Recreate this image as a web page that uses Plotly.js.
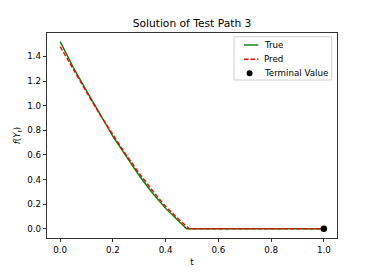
<!DOCTYPE html>
<html>
<head>
<meta charset="utf-8">
<script src="https://cdn.plot.ly/plotly-3.0.1.min.js"></script>
<style>html,body{margin:0;padding:0;background:#fff;}#chart{width:374px;height:273px;}</style>
</head>
<body>
<div id="chart"></div>
<script>
const tTrue = [0.00, 0.05, 0.10, 0.15, 0.20, 0.25, 0.30, 0.35, 0.40, 0.45, 0.48, 0.50, 0.60, 0.70, 0.80, 0.90, 1.00];
const yTrue = [1.52, 1.31, 1.12, 0.93, 0.75, 0.59, 0.43, 0.29, 0.165, 0.06, 0.0, 0, 0, 0, 0, 0, 0];
const tPred = [0.00, 0.05, 0.10, 0.15, 0.20, 0.25, 0.30, 0.35, 0.40, 0.45, 0.49, 0.50, 0.60, 0.70, 0.80, 0.90, 1.00];
const yPred = [1.48, 1.29, 1.11, 0.93, 0.76, 0.60, 0.45, 0.31, 0.18, 0.075, 0.0, 0, 0, 0, 0, 0, 0];
const tTerminal = [1.0];
const yTerminal = [0.0];
const xTicks = [0.0, 0.2, 0.4, 0.6, 0.8, 1.0];
const xTickText = ["0.0", "0.2", "0.4", "0.6", "0.8", "1.0"];
const yTicks = [0.0, 0.2, 0.4, 0.6, 0.8, 1.0, 1.2, 1.4];
const yTickText = ["0.0", "0.2", "0.4", "0.6", "0.8", "1.0", "1.2", "1.4"];
const legendNames = ["True", "Pred", "Terminal Value"];

const font = "DejaVu Sans, sans-serif";
const fs = 8.7;
const green = "#008000", red = "#ff0000", black = "#000000";
const dashPat = "4.5px,2px";

const data = [
  {x: tTrue, y: yTrue, type: "scatter", mode: "lines", name: legendNames[0],
   line: {color: green, width: 1.4}},
  {x: tPred, y: yPred, type: "scatter", mode: "lines", name: legendNames[1],
   line: {color: red, width: 1.4, dash: dashPat}},
  {x: tTerminal, y: yTerminal, type: "scatter", mode: "markers", name: legendNames[2],
   marker: {color: black, size: 6.5}}
];

// hand-built matplotlib-style legend (paper coordinates)
const lgX0 = 0.6448, lgX1 = 0.9817, lgY0 = 0.7707, lgY1 = 0.982;
const rowY = [0.9415, 0.8717, 0.8034];
const sampleX0 = 0.6793, sampleX1 = 0.7286, dotX = 0.6985, textX = 0.7403;
const shapes = [
  {type: "rect", xref: "paper", yref: "paper", x0: lgX0, x1: lgX1, y0: lgY0, y1: lgY1,
   line: {color: "#d0d0d0", width: 1}, fillcolor: "rgba(255,255,255,0.8)", layer: "above"},
  {type: "line", xref: "paper", yref: "paper", x0: sampleX0, x1: sampleX1, y0: rowY[0], y1: rowY[0],
   line: {color: green, width: 1.4}, layer: "above"},
  {type: "line", xref: "paper", yref: "paper", x0: sampleX0, x1: sampleX1, y0: rowY[1], y1: rowY[1],
   line: {color: red, width: 1.4, dash: dashPat}, layer: "above"},
  {type: "circle", xref: "paper", yref: "paper", xsizemode: "pixel", ysizemode: "pixel",
   xanchor: dotX, yanchor: rowY[2], x0: -3, x1: 3, y0: -3, y1: 3,
   fillcolor: black, line: {color: black, width: 0}, layer: "above"}
];
const annotations = legendNames.map((n, i) => ({
  xref: "paper", yref: "paper", x: textX, y: rowY[i], xanchor: "left", yanchor: "middle",
  text: n, showarrow: false, font: {family: font, size: fs, color: black}
}));

const axisCommon = {
  showgrid: false, zeroline: false, showline: true, mirror: true,
  linecolor: "#000", linewidth: 0.8, ticks: "outside", ticklen: 3.5, tickcolor: "#000", tickwidth: 0.8,
  tickfont: {family: font, size: fs, color: "#000"}
};

const layout = {
  width: 374, height: 273,
  margin: {l: 47, r: 37, t: 33, b: 35, pad: 0},
  paper_bgcolor: "#ffffff", plot_bgcolor: "#ffffff",
  font: {family: font, size: fs, color: "#000"},
  title: {text: "Solution of Test Path 3", font: {family: font, size: 10.7, color: "#000"},
          x: 0.5, xref: "paper", xanchor: "center", y: 0.916, yref: "container", yanchor: "middle"},
  showlegend: false,
  shapes: shapes,
  annotations: annotations,
  xaxis: Object.assign({}, axisCommon, {range: [-0.05, 1.05], tickvals: xTicks, ticktext: xTickText,
          title: {text: "t", font: {family: font, size: fs, color: "#000"}, standoff: 5}}),
  yaxis: Object.assign({}, axisCommon, {range: [-0.0757, 1.5905], tickvals: yTicks, ticktext: yTickText,
          title: {text: "<i>f</i>(<i>Y<sub>t</sub></i>)", font: {family: font, size: fs, color: "#000"}, standoff: 4}})
};
Plotly.newPlot("chart", data, layout, {displayModeBar: false, staticPlot: true});
</script>
</body>
</html>
